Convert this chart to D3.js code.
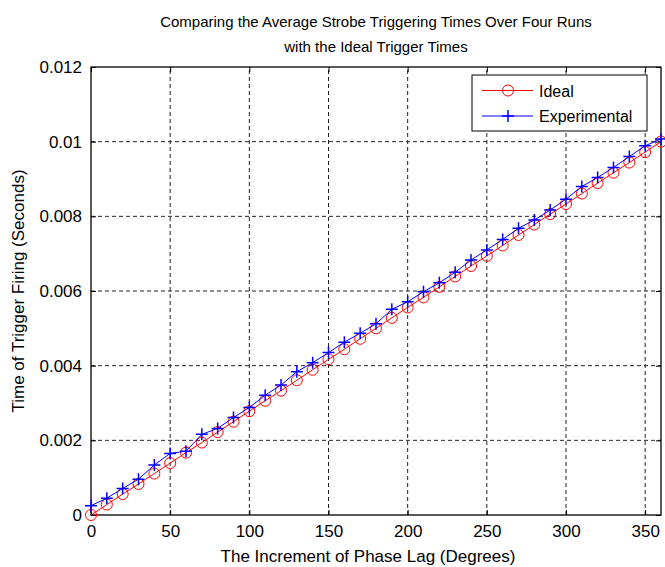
<!DOCTYPE html>
<html>
<head>
<meta charset="utf-8">
<script src="https://cdn.jsdelivr.net/npm/d3@7"></script>
<style>
  body { margin: 0; background: #fff; }
  text { font-family: "Liberation Sans", Arial, sans-serif; fill: #000; }
</style>
</head>
<body>
<div id="chart"></div>
<script>
// phase lag in degrees
var phase = [0, 10, 20, 30, 40, 50, 60, 70, 80, 90, 100, 110, 120, 130, 140, 150, 160, 170, 180,
  190, 200, 210, 220, 230, 240, 250, 260, 270, 280, 290, 300, 310, 320, 330, 340, 350, 360];

var ideal = [0, 0.00028, 0.00056, 0.00083, 0.00111, 0.00139, 0.00167, 0.00194, 0.00222, 0.0025,
  0.00278, 0.00306, 0.00333, 0.00361, 0.00389, 0.00417, 0.00444, 0.00472, 0.005, 0.00528,
  0.00556, 0.00583, 0.00611, 0.00639, 0.00667, 0.00694, 0.00722, 0.0075, 0.00778, 0.00806,
  0.00833, 0.00861, 0.00889, 0.00917, 0.00944, 0.00972, 0.01];

var experimental = [0.00025, 0.00045, 0.00071, 0.00096, 0.00134, 0.00165, 0.00171, 0.00216, 0.00232, 0.00261,
  0.00288, 0.00321, 0.00348, 0.00384, 0.00408, 0.00435, 0.00463, 0.00487, 0.00512, 0.00551,
  0.00571, 0.00598, 0.00622, 0.0065, 0.00683, 0.0071, 0.00738, 0.00768, 0.0079, 0.00817,
  0.00846, 0.0088, 0.00904, 0.00931, 0.0096, 0.00989, 0.01007];

var xTicks = [0, 50, 100, 150, 200, 250, 300, 350];
var yTicks = [0, 0.002, 0.004, 0.006, 0.008, 0.01, 0.012];

var W = 665, H = 567;
var margin = {top: 67, right: 4, bottom: 52, left: 91};

var svg = d3.select("#chart").append("svg")
  .attr("width", W).attr("height", H);

var x = d3.scaleLinear().domain([0, 360]).range([margin.left, W - margin.right]);
var y = d3.scaleLinear().domain([0, 0.012]).range([H - margin.bottom, margin.top]);

// grid (dashed)
var grid = svg.append("g");
grid.selectAll(".vg").data(xTicks.filter(d => d > 0)).enter().append("line")
  .attr("x1", d => x(d)).attr("x2", d => x(d))
  .attr("y1", y(0)).attr("y2", y(0.012))
  .style("stroke", "#222").style("stroke-dasharray", "4,3");
grid.selectAll(".hg").data(yTicks.filter(d => d > 0 && d < 0.012)).enter().append("line")
  .attr("x1", x(0)).attr("x2", x(360))
  .attr("y1", d => y(d)).attr("y2", d => y(d))
  .style("stroke", "#222").style("stroke-dasharray", "4,3");

// axes, ticks inward like matlab
var fmt = function (d) { return d === 0 ? "0" : d3.format("")(+d.toFixed(3)); };
svg.append("g")
  .attr("transform", "translate(0," + y(0) + ")")
  .call(d3.axisBottom(x).tickValues(xTicks).tickSizeInner(-5).tickSizeOuter(0).tickPadding(10))
  .call(g => g.select(".domain").remove())
  .selectAll("text").style("font-size", "17px");
svg.append("g")
  .attr("transform", "translate(0," + y(0.012) + ")")
  .call(d3.axisTop(x).tickValues(xTicks).tickSizeInner(-5).tickSizeOuter(0).tickFormat(""))
  .call(g => g.select(".domain").remove());
svg.append("g")
  .attr("transform", "translate(" + x(0) + ",0)")
  .call(d3.axisLeft(y).tickValues(yTicks).tickSizeInner(-5).tickSizeOuter(0).tickPadding(9).tickFormat(fmt))
  .call(g => g.select(".domain").remove())
  .selectAll("text").style("font-size", "17px");
svg.append("g")
  .attr("transform", "translate(" + x(360) + ",0)")
  .call(d3.axisRight(y).tickValues(yTicks).tickSizeInner(-5).tickSizeOuter(0).tickFormat(""))
  .call(g => g.select(".domain").remove());

svg.append("rect")
  .attr("x", x(0)).attr("y", y(0.012))
  .attr("width", x(360) - x(0)).attr("height", y(0) - y(0.012))
  .style("fill", "none").style("stroke", "#000").style("stroke-width", 1.3);

// series
var ptsIdeal = phase.map((p, i) => [p, ideal[i]]);
var ptsExp = phase.map((p, i) => [p, experimental[i]]);
var line = d3.line().x(d => x(d[0])).y(d => y(d[1]));

svg.append("path").datum(ptsIdeal).attr("d", line)
  .style("fill", "none").style("stroke", "#ff0000").style("stroke-width", 1);
svg.append("g").selectAll("circle").data(ptsIdeal).enter().append("circle")
  .attr("cx", d => x(d[0])).attr("cy", d => y(d[1])).attr("r", 5.5)
  .style("fill", "none").style("stroke", "#ff0000").style("stroke-width", 1);

svg.append("path").datum(ptsExp).attr("d", line)
  .style("fill", "none").style("stroke", "#0000ff").style("stroke-width", 1);
svg.append("g").selectAll("path").data(ptsExp).enter().append("path")
  .attr("d", d => "M" + (x(d[0]) - 6) + "," + y(d[1]) + "h12M" + x(d[0]) + "," + (y(d[1]) - 6) + "v12")
  .style("stroke", "#0000ff").style("stroke-width", 1.5);

// legend
var lg = svg.append("g").attr("transform", "translate(472,75)");
lg.append("rect").attr("width", 175).attr("height", 56)
  .style("fill", "#fff").style("stroke", "#000").style("stroke-width", 1);
lg.append("line").attr("x1", 10).attr("x2", 61).attr("y1", 15.5).attr("y2", 15.5).style("stroke", "#ff0000");
lg.append("circle").attr("cx", 36).attr("cy", 15.5).attr("r", 5.5).style("fill", "none").style("stroke", "#ff0000");
lg.append("text").attr("x", 67).attr("y", 21.5).text("Ideal").style("font-size", "16px");
lg.append("line").attr("x1", 10).attr("x2", 61).attr("y1", 41).attr("y2", 41).style("stroke", "#0000ff");
lg.append("path").attr("d", "M30,41h12M36,35v12").style("stroke", "#0000ff").style("stroke-width", 1.5);
lg.append("text").attr("x", 67).attr("y", 47).text("Experimental").style("font-size", "16px");

// titles
var cx = (x(0) + x(360)) / 2;
svg.append("text").attr("x", cx).attr("y", 27).attr("text-anchor", "middle")
  .style("font-size", "15px").text("Comparing the Average Strobe Triggering Times Over Four Runs");
svg.append("text").attr("x", cx).attr("y", 52).attr("text-anchor", "middle")
  .style("font-size", "15px").text("with the Ideal Trigger Times");
svg.append("text").attr("x", cx - 8).attr("y", 562).attr("text-anchor", "middle")
  .style("font-size", "17px").text("The Increment of Phase Lag (Degrees)");
svg.append("text").attr("transform", "translate(24," + ((y(0) + y(0.012)) / 2) + ") rotate(-90)")
  .attr("text-anchor", "middle")
  .style("font-size", "17px").text("Time of Trigger Firing (Seconds)");
</script>
</body>
</html>
